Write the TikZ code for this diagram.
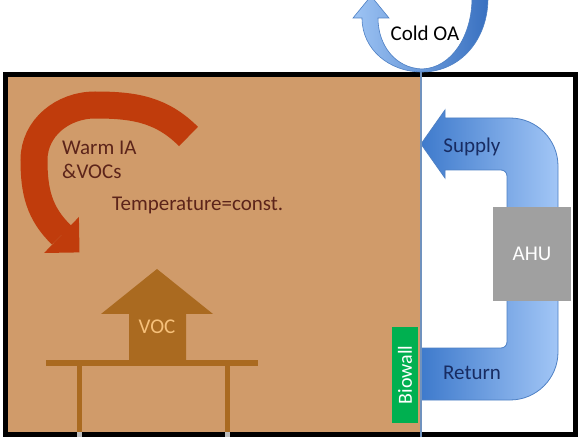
\documentclass[tikz,border=0pt]{standalone}
\usepackage{fontspec}
\setmainfont{Carlito}
\definecolor{roombrown}{RGB}{208,155,106}
\definecolor{warmred}{RGB}{192,60,12}
\definecolor{vocbrown}{RGB}{170,106,32}
\definecolor{voclight}{RGB}{246,192,122}
\definecolor{textbrown}{RGB}{92,36,26}
\definecolor{ductdark}{RGB}{62,122,204}
\definecolor{ductlight}{RGB}{162,198,246}
\definecolor{ductedge}{RGB}{78,128,196}
\definecolor{oalight}{RGB}{158,196,244}
\definecolor{oadark}{RGB}{56,112,192}
\definecolor{navytext}{RGB}{24,44,98}
\definecolor{biogreen}{RGB}{0,176,80}
\definecolor{ahugrey}{RGB}{160,160,160}
\definecolor{dividerblue}{RGB}{112,146,190}
\tikzset{
  txt/.style={
      inner sep=0pt,
      font=\fontsize{21}{24}\selectfont
  },
  warmflow/.style={
      line width=27pt,
      draw=warmred
  },
  furniture/.style={
      fill=vocbrown
  },
  ductflow/.style={
      left color=ductdark,
      right color=ductlight,
      draw=ductedge,
      line width=0.8pt
  },
  oaflow/.style={
      left color=oalight,
      right color=oadark,
      draw=ductedge,
      line width=0.6pt
  },
  ahubox/.style={
      rectangle,
      fill=ahugrey,
      text=white,
      minimum width=78pt,
      minimum height=94pt,
      font=\fontsize{21}{24}\selectfont
  },
  biowallbox/.style={
      rectangle,
      fill=biogreen,
      text=white,
      minimum width=96pt,
      minimum height=26pt,
      inner sep=0pt,
      font=\fontsize{20}{24}\selectfont
  }
}
\begin{document}
\begin{tikzpicture}[x=1pt,y=1pt]
    \clip (0,0) rectangle (582,440);
    \fill[white] (0,0) rectangle (582,440);
    % room
    \fill[roombrown] (7,8) rectangle (421,363);
    % warm indoor air
    \draw[warmflow] (188.5,303.5) to[out=135,in=0] (95,335)
        to[out=180,in=90] (34,280) to[out=-90,in=136] (61.5,205);
    \fill[warmred] (78.9,223) -- (79.5,187.6) -- (44.1,187) -- cycle;
    \node[txt, text=textbrown, align=left, anchor=west] (warm) at (62,280) {Warm IA\\\&VOCs};
    \node[txt, text=textbrown, anchor=west] (temp) at (112,235) {Temperature=const.};
    % table and VOC source
    \fill[furniture] (46,74) rectangle (258,80);
    \fill[furniture] (77,8) rectangle (82,74);
    \fill[furniture] (225,8) rectangle (230,74);
    \fill[furniture] (129,80) -- (129,126) -- (101,126) -- (157,171)
        -- (213,126) -- (186,126) -- (186,80) -- cycle;
    \node[txt, text=voclight] (voc) at (157,113) {VOC};
    % duct loop
    \path[ductflow] (421,296) -- (445,330) -- (445,322) -- (510,322)
        arc[start angle=90, end angle=0, radius=48] -- (558,88)
        arc[start angle=0, end angle=-90, radius=48] -- (421,40) -- (421,92) -- (501,92)
        arc[start angle=-90, end angle=0, radius=6] -- (507,264)
        arc[start angle=0, end angle=90, radius=6] -- (445,270) -- (445,262) -- cycle;
    \node[ahubox] (ahu) at (532,186) {AHU};
    \node[txt, text=navytext] (supply) at (472,293) {Supply};
    \node[txt, text=navytext] (return) at (472,67) {Return};
    \node[biowallbox, rotate=90] (biowall) at (405,65) {Biowall};
    % walls
    \draw[line width=5pt] (5,5.5) rectangle (575.5,365.5);
    \fill[ahugrey!70] (77,3) rectangle (82,8);
    \fill[ahugrey!70] (225,3) rectangle (230,8);
    \draw[dividerblue, line width=1.5pt] (421,3) -- (421,368);
    % outdoor air
    \path[oaflow] (362,422) .. controls (362,390) and (390,368) .. (422,368)
        .. controls (460,368) and (488,400) .. (488,442) -- (472,442)
        .. controls (472,405) and (452,372) .. (422,371)
        .. controls (395,372) and (378,395) .. (378,422)
        -- (389,422) -- (371,444) -- (353,422) -- cycle;
    \node[txt] (coldoa) at (425,407) {Cold OA};
\end{tikzpicture}
\end{document}
